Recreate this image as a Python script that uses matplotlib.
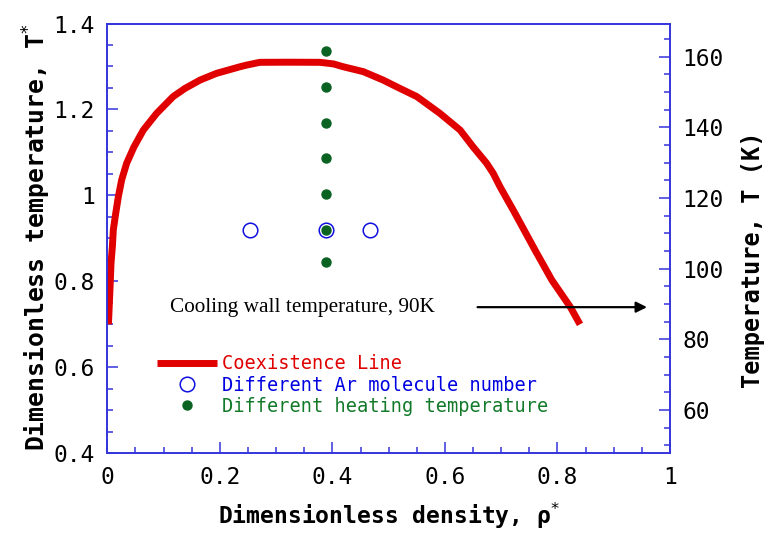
import numpy as np
import matplotlib
matplotlib.use("Agg")
import matplotlib.pyplot as plt
from matplotlib.ticker import MultipleLocator, FuncFormatter

# coexistence line (rho*, T*)
rho_coex = [0.002, 0.005, 0.0066, 0.009, 0.0107, 0.0149, 0.0196, 0.0255, 0.0344, 0.0474,
            0.064, 0.0877, 0.117, 0.138, 0.165, 0.194, 0.236, 0.248, 0.271, 0.320,
            0.378, 0.402, 0.419, 0.455, 0.490, 0.520, 0.550, 0.591, 0.627, 0.650,
            0.674, 0.686, 0.698, 0.723, 0.760, 0.790, 0.823, 0.840]
T_coex = [0.700, 0.790, 0.842, 0.881, 0.920, 0.958, 0.997, 1.036, 1.075, 1.113,
          1.152, 1.191, 1.230, 1.249, 1.2685, 1.284, 1.2995, 1.3034, 1.3097, 1.310,
          1.3097, 1.306, 1.2995, 1.288, 1.2685, 1.249, 1.230, 1.191, 1.152, 1.113,
          1.075, 1.051, 1.020, 0.962, 0.873, 0.803, 0.740, 0.700]

# different Ar molecule number
rho_ar = [0.254, 0.389, 0.467]
T_ar = [0.919, 0.919, 0.919]

# different heating temperature
rho_heat = [0.389, 0.389, 0.389, 0.389, 0.389, 0.389, 0.389]
T_heat = [1.337, 1.253, 1.169, 1.086, 1.003, 0.919, 0.844]

red = "#e00000"
blue = "#1010e0"
green = "#0b6323"
spine_col = "#3434dc"
mono = "DejaVu Sans Mono"

fig = plt.figure(figsize=(7.72, 5.37), dpi=100)
ax = fig.add_axes([0.139, 0.1559, 0.7289, 0.8003])

ax.plot(rho_coex, T_coex, color=red, lw=5, solid_capstyle="butt",
        solid_joinstyle="round", label="Coexistence Line")
ax.plot(rho_ar, T_ar, ls="none", marker="o", ms=10.5, mfc="none", mec=blue, mew=1.1,
        color=blue, label="Different Ar molecule number")
ax.plot(rho_heat, T_heat, ls="none", marker="o", ms=6.5, mfc=green, mec=green,
        color=green, label="Different heating temperature")

ax.annotate("", xy=(0.964, 0.740), xytext=(0.653, 0.740),
            arrowprops=dict(arrowstyle="-|>", color="black", lw=1.6, mutation_scale=16))
ax.text(0.1114, 0.740, "Cooling wall temperature, 90K", family="Liberation Serif",
        fontsize=15.3, ha="left", va="center")

ax.set_xlim(0, 1)
ax.set_ylim(0.4, 1.4)
ax.xaxis.set_major_locator(MultipleLocator(0.2))
ax.xaxis.set_minor_locator(MultipleLocator(0.05))
ax.yaxis.set_major_locator(MultipleLocator(0.2))
ax.yaxis.set_minor_locator(MultipleLocator(0.05))
fmt = FuncFormatter(lambda v, p: "%g" % round(v, 2))
ax.xaxis.set_major_formatter(fmt)
ax.yaxis.set_major_formatter(fmt)
ax.tick_params(which="both", direction="in", color=spine_col, top=False, right=False)
ax.tick_params(which="major", length=8, width=1.1, pad=9, labelsize=16.5)
ax.tick_params(which="minor", length=4.5, width=1.1)
for lab in ax.get_xticklabels() + ax.get_yticklabels():
    lab.set_family(mono)

ax2 = ax.twinx()
ax2.set_ylim(47.74, 169.4)
ax2.yaxis.set_major_locator(MultipleLocator(20))
ax2.yaxis.set_minor_locator(MultipleLocator(5))
ax2.tick_params(which="both", direction="in", color=spine_col)
ax2.tick_params(which="major", length=8, width=1.1, pad=9, labelsize=16.5)
ax2.tick_params(which="minor", length=4.5, width=1.1)
for lab in ax2.get_yticklabels():
    lab.set_family(mono)

for a in (ax, ax2):
    for sp in a.spines.values():
        sp.set_color(spine_col)
        sp.set_linewidth(1.2)

ax.set_xlabel("Dimensionless density, ρ$^{*}$", family=mono, fontweight="bold", fontsize=16.6)
ax.set_ylabel("Dimensionless temperature, T$^{*}$", family=mono, fontweight="bold", fontsize=17.8)
ax2.set_ylabel("Temperature, T (K)", family=mono, fontweight="bold", fontsize=17)
ax.xaxis.set_label_coords(0.5, -0.11)
ax.yaxis.set_label_coords(-0.096, 0.503)
ax2.yaxis.set_label_coords(1.127, 0.45)

leg = ax.legend(loc="upper left", bbox_to_anchor=(0.0883, 0.230), frameon=False,
                prop=dict(family=mono, size=13.4), handlelength=3.2, handletextpad=0.28,
                borderpad=0, borderaxespad=0, labelspacing=0.12,
                labelcolor=[red, "#0000e0", "#137a2a"])

fig.savefig("out.png", dpi=100)
